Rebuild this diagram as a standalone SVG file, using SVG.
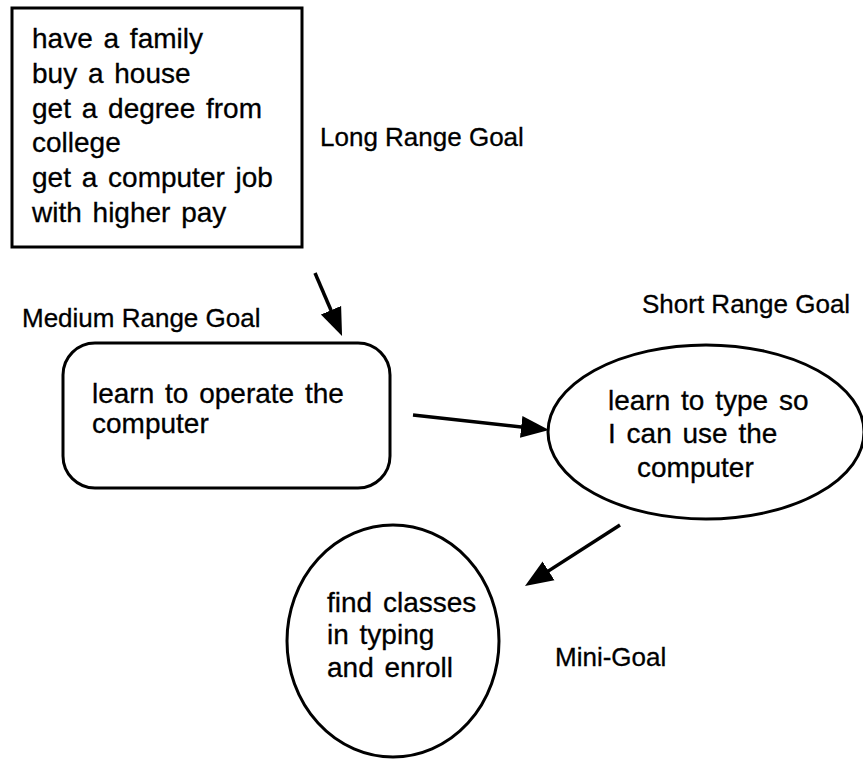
<svg xmlns="http://www.w3.org/2000/svg" width="863" height="760" viewBox="0 0 863 760">
<style>
.shape{fill:none;stroke:#000;stroke-width:3}
.t{font-family:"Liberation Sans",Arial,Helvetica,sans-serif;font-size:28px;word-spacing:3px;fill:#000;stroke:#000;stroke-width:0.3}
.lbl{font-family:"Liberation Sans",Arial,Helvetica,sans-serif;font-size:26px;fill:#000;stroke:#000;stroke-width:0.3}
.conn{stroke:#000;stroke-width:3.5;fill:none;marker-end:url(#ah)}
</style>
<defs>
<marker id="ah" markerUnits="userSpaceOnUse" markerWidth="30" markerHeight="24" viewBox="0 0 30 24" refX="18" refY="12" orient="auto">
<path d="M0,1 L28,12 L0,23 z" fill="#000"/>
</marker>
</defs>
<rect width="863" height="760" fill="#fff"/>
<g id="long-range">
<rect class="shape" x="12" y="8" width="290" height="239"/>
<text class="t" x="32" y="48">have a family</text>
<text class="t" x="32" y="83">buy a house</text>
<text class="t" x="32" y="118">get a degree from</text>
<text class="t" x="32" y="152">college</text>
<text class="t" x="32" y="187">get a computer job</text>
<text class="t" x="32" y="222">with higher pay</text>
</g>
<g id="label-long"><text class="lbl" x="320" y="146">Long Range Goal</text></g>
<g id="medium-range">
<rect class="shape" x="63" y="343" width="327" height="145" rx="32" ry="32"/>
<text class="t" x="92" y="403">learn to operate the</text>
<text class="t" x="92" y="433">computer</text>
</g>
<g id="label-medium"><text class="lbl" x="22" y="327">Medium Range Goal</text></g>
<g id="short-range">
<ellipse class="shape" cx="706" cy="432" rx="158" ry="87"/>
<text class="t" x="608" y="410">learn to type so</text>
<text class="t" x="608" y="443">I can use the</text>
<text class="t" x="637" y="477">computer</text>
</g>
<g id="label-short"><text class="lbl" x="642" y="313">Short Range Goal</text></g>
<g id="mini-goal">
<ellipse class="shape" cx="393" cy="641" rx="106" ry="116"/>
<text class="t" x="327" y="612">find classes</text>
<text class="t" x="327" y="644">in typing</text>
<text class="t" x="327" y="677">and enroll</text>
</g>
<g id="label-mini"><text class="lbl" x="555" y="666">Mini-Goal</text></g>
<g id="connectors">
<line class="conn" x1="315" y1="273" x2="338.1" y2="326.8"/>
<line class="conn" x1="413" y1="415" x2="539.1" y2="428.9"/>
<line class="conn" x1="620" y1="525" x2="533.4" y2="580.6"/>
</g>
</svg>
